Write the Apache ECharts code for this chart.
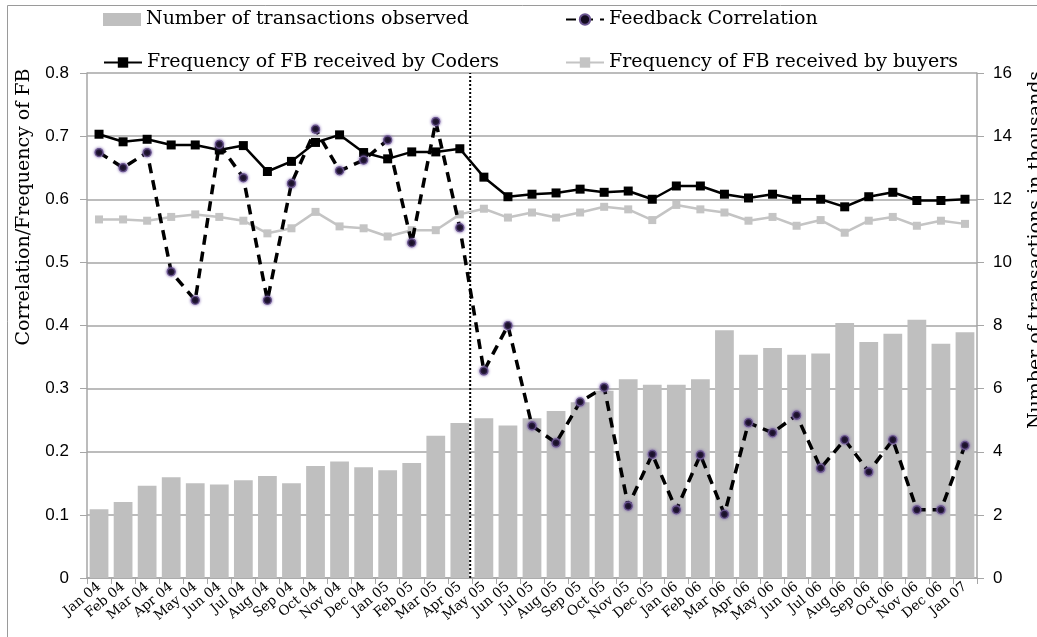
<!DOCTYPE html>
<html>
<head>
<meta charset="utf-8">
<script src="https://cdn.jsdelivr.net/npm/echarts@6/dist/echarts.min.js"></script>
<style>
  html, body { margin: 0; padding: 0; background: #fff; }
  #chart { width: 1037px; height: 637px; }
</style>
</head>
<body>
<div id="chart"></div>
<script>
// 月份
const months = [
  "Jan 04", "Feb 04", "Mar 04", "Apr 04", "May 04", "Jun 04", "Jul 04", "Aug 04",
  "Sep 04", "Oct 04", "Nov 04", "Dec 04", "Jan 05", "Feb 05", "Mar 05", "Apr 05",
  "May 05", "Jun 05", "Jul 05", "Aug 05", "Sep 05", "Oct 05", "Nov 05", "Dec 05",
  "Jan 06", "Feb 06", "Mar 06", "Apr 06", "May 06", "Jun 06", "Jul 06", "Aug 06",
  "Sep 06", "Oct 06", "Nov 06", "Dec 06", "Jan 07"
];
// 交易数 (千)
const transactions = [
  2.18, 2.41, 2.92, 3.19, 3.00, 2.96, 3.10, 3.23, 3.00, 3.55, 3.69, 3.51, 3.41,
  3.64, 4.51, 4.91, 5.06, 4.83, 5.06, 5.29, 5.57, 5.93, 6.30, 6.12, 6.12, 6.30,
  7.85, 7.07, 7.29, 7.07, 7.11, 8.08, 7.48, 7.74, 8.18, 7.42, 7.79
];
const correlation = [
  0.674, 0.650, 0.674, 0.485, 0.440, 0.687, 0.634, 0.440, 0.625, 0.711, 0.645,
  0.662, 0.694, 0.531, 0.723, 0.555, 0.328, 0.400, 0.241, 0.214, 0.279, 0.302,
  0.114, 0.196, 0.108, 0.195, 0.101, 0.246, 0.230, 0.258, 0.174, 0.219, 0.168,
  0.219, 0.108, 0.108, 0.210
];
const coders = [
  0.703, 0.691, 0.695, 0.686, 0.686, 0.678, 0.685, 0.644, 0.660, 0.690, 0.702,
  0.674, 0.664, 0.675, 0.675, 0.680, 0.635, 0.604, 0.608, 0.610, 0.616, 0.611,
  0.613, 0.600, 0.621, 0.621, 0.608, 0.602, 0.608, 0.600, 0.600, 0.588, 0.604,
  0.611, 0.598, 0.598, 0.600
];
const buyers = [
  0.568, 0.568, 0.566, 0.572, 0.576, 0.572, 0.566, 0.546, 0.554, 0.580, 0.557,
  0.554, 0.541, 0.551, 0.551, 0.576, 0.585, 0.571, 0.579, 0.571, 0.579, 0.588,
  0.584, 0.567, 0.591, 0.584, 0.579, 0.566, 0.572, 0.558, 0.567, 0.547, 0.566,
  0.572, 0.558, 0.566, 0.561
];
// 分隔线位置 (Apr 05 / May 05 之间)
const dividerPos = 15.93;

const serif = "DejaVu Serif";
const sans = "Liberation Sans";
const axisGray = "#a6a6a6";

const chart = echarts.init(document.getElementById("chart"));

function legendAt(name, left, top, icon) {
  return {
    data: [icon ? { name: name, icon: icon } : name],
    left: left,
    top: top,
    itemWidth: 38,
    itemHeight: 13,
    itemGap: 0,
    selectedMode: false,
    textStyle: { fontFamily: serif, fontSize: 19, color: "#000" }
  };
}

const option = {
  animation: false,
  backgroundColor: "#fff",
  legend: [
    legendAt("Number of transactions observed", 98, 5, "rect"),
    legendAt("Feedback Correlation", 560, 5),
    legendAt("Frequency of FB received by Coders", 98, 48),
    legendAt("Frequency of FB received by buyers", 560, 48)
  ],
  graphic: [
    {
      type: "rect",
      shape: { x: 7.5, y: 5.5, width: 1100, height: 700 },
      style: { fill: "none", stroke: "#9a9a9a", lineWidth: 1 },
      silent: true
    },
    {
      type: "text",
      x: 24, y: 207, rotation: Math.PI / 2,
      style: {
        text: "Correlation/Frequency of FB",
        font: "19px '" + serif + "'",
        fill: "#000", align: "center", verticalAlign: "middle"
      }
    },
    {
      type: "text",
      x: 1036, y: 250, rotation: Math.PI / 2,
      style: {
        text: "Number of transactions in thousands",
        font: "19px '" + serif + "'",
        fill: "#000", align: "center", verticalAlign: "middle"
      }
    }
  ],
  grid: { left: 87, right: 60, top: 73, bottom: 59 },
  xAxis: [
    {
      type: "category",
      data: months,
      axisLine: { lineStyle: { color: axisGray, width: 1.5 } },
      axisTick: { show: true, length: 6, lineStyle: { color: axisGray } },
      axisLabel: {
        interval: 0, rotate: 40, margin: 7,
        fontFamily: serif, fontSize: 13.5, color: "#000"
      }
    },
    { type: "value", min: 0, max: 37, show: false }
  ],
  yAxis: [
    {
      type: "value", min: 0, max: 0.8, interval: 0.1,
      axisLine: { show: true, lineStyle: { color: axisGray, width: 1.5 } },
      axisTick: { show: true, length: 7, lineStyle: { color: axisGray } },
      axisLabel: { fontFamily: sans, fontSize: 17, color: "#000", margin: 18 },
      splitLine: { lineStyle: { color: axisGray, width: 1.5 } }
    },
    {
      type: "value", min: 0, max: 16, interval: 2,
      axisLine: { show: true, lineStyle: { color: axisGray, width: 1.5 } },
      axisTick: { show: true, length: 7, lineStyle: { color: axisGray } },
      axisLabel: { fontFamily: sans, fontSize: 17, color: "#000", margin: 16 },
      splitLine: { show: false }
    }
  ],
  series: [
    {
      name: "Number of transactions observed",
      type: "bar",
      yAxisIndex: 1,
      data: transactions,
      barCategoryGap: "22%",
      itemStyle: { color: "#bfbfbf" }
    },
    {
      name: "divider",
      type: "line",
      xAxisIndex: 1,
      yAxisIndex: 0,
      data: [[dividerPos, 0], [dividerPos, 0.8]],
      symbol: "none",
      lineStyle: { color: "#000", width: 2, type: [2, 2] },
      z: 3
    },
    {
      name: "Frequency of FB received by buyers",
      type: "line",
      data: buyers,
      symbol: "rect",
      symbolSize: 8,
      itemStyle: { color: "#c4c4c4" },
      lineStyle: { color: "#c4c4c4", width: 2.5 },
      z: 4
    },
    {
      name: "Frequency of FB received by Coders",
      type: "line",
      data: coders,
      symbol: "rect",
      symbolSize: 9,
      itemStyle: { color: "#000" },
      lineStyle: { color: "#000", width: 2.5 },
      z: 5
    },
    {
      name: "Feedback Correlation",
      type: "line",
      data: correlation,
      symbol: "circle",
      symbolSize: 8,
      itemStyle: {
        color: "#140c20", borderColor: "#6a5590", borderWidth: 1.2,
        shadowBlur: 3, shadowColor: "rgba(110,80,160,0.8)"
      },
      lineStyle: { color: "#000", width: 3.5, type: [10, 7] },
      z: 6
    }
  ]
};
chart.setOption(option);
</script>
</body>
</html>
